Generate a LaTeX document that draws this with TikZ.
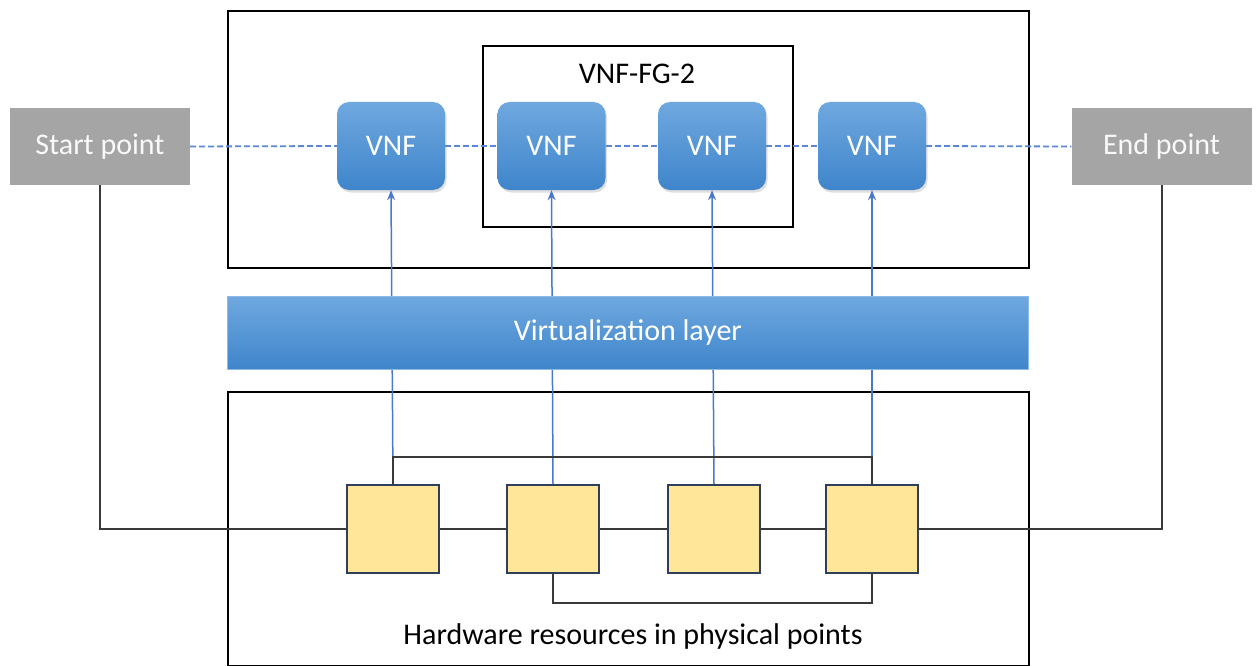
\documentclass[tikz,border=0pt]{standalone}
\usepackage{fontspec}
\setmainfont{Carlito}
\usetikzlibrary{arrows.meta,shadows,positioning}
\definecolor{vnftop}{HTML}{6FA8DF}
\definecolor{vnfbot}{HTML}{3F85CB}
\definecolor{linkblue}{HTML}{4A78CF}
\definecolor{dashblue}{HTML}{5B86D6}
\definecolor{endgray}{HTML}{A5A5A5}
\definecolor{hwfill}{HTML}{FFE699}
\definecolor{hwedge}{HTML}{2E3E5C}
\definecolor{wire}{HTML}{3A3A3A}
\tikzset{
  frame/.style={draw=black, line width=1.6pt},
  bigfont/.style={font=\fontsize{30}{36}\selectfont},
  vnfbox/.style={rounded corners=12pt, minimum width=108pt, minimum height=88pt,
    top color=vnftop, bottom color=vnfbot, draw=none, text=white, bigfont,
    drop shadow={opacity=0.25, shadow xshift=1.5pt, shadow yshift=-2.5pt}},
  endbox/.style={fill=endgray, draw=none, minimum width=180pt, minimum height=77pt,
    text=white!95!gray, bigfont},
  hwbox/.style={fill=hwfill, draw=hwedge, line width=1.4pt, minimum width=92pt, minimum height=88pt},
  chain/.style={dashblue, dash pattern=on 6pt off 3pt, line width=1.8pt},
  uplink/.style={linkblue, line width=1.5pt, -{Stealth[length=10pt,width=8pt]}},
  wirestyle/.style={wire, line width=2pt},
  lbl/.style={bigfont, text=black}
}
\begin{document}
\begin{tikzpicture}[x=1pt, y=-1pt]
\useasboundingbox (0,0) rectangle (1256,666);

% frames
\node[frame, minimum width=801pt, minimum height=257pt, anchor=north west] (top) at (227,10) {};
\node[frame, minimum width=801pt, minimum height=274pt, anchor=north west] (hw) at (227,391) {};
\node[frame, minimum width=310pt, minimum height=181pt, anchor=north west] (fg) at (482,45) {};
\node[lbl] (fglabel) at (637,74) {VNF-FG-2};
\node[lbl] (hwlabel) at (633,636) {Hardware resources in physical points};

% start and end points
\node[endbox] (st) at (100,146.5) {Start point};
\node[endbox] (en) at (1161.5,146.5) {End point};

% hardware nodes
\node[hwbox] (s1) at (393,529) {};
\node[hwbox] (s2) at (553,529) {};
\node[hwbox] (s3) at (714,529) {};
\node[hwbox] (s4) at (872,529) {};

% virtual network functions
\node[vnfbox] (v1) at (391,146) {VNF};
\node[vnfbox] (v2) at (551.5,146) {VNF};
\node[vnfbox] (v3) at (712,146) {VNF};
\node[vnfbox] (v4) at (872,146) {VNF};

% mapping of functions onto hardware
\draw[uplink] (s1.north) -- (v1.south);
\draw[uplink] (s2.north) -- (v2.south);
\draw[uplink] (s3.north) -- (v3.south);
\draw[uplink] (s4.north) -- (v4.south);

% virtualization layer over the mapping lines
\node[draw=vnftop!80!white, line width=0.8pt, top color=vnftop, bottom color=vnfbot,
      minimum width=801pt, minimum height=73pt, anchor=north west] (vl) at (227,296) {};
\node[text=white, bigfont] (vltext) at (vl.center) {Virtualization layer};

% forwarding graph chain
\draw[chain] (st.east) -- (v1.west);
\draw[chain] (v1.east) -- (v2.west);
\draw[chain] (v2.east) -- (v3.west);
\draw[chain] (v3.east) -- (v4.west);
\draw[chain] (v4.east) -- (en.west);

% physical wiring
\draw[wirestyle] (st.south) |- (s1.west);
\draw[wirestyle] (en.south) |- (s4.east);
\draw[wirestyle] (s1.east) -- (s2.west);
\draw[wirestyle] (s2.east) -- (s3.west);
\draw[wirestyle] (s3.east) -- (s4.west);
\draw[wirestyle] (s1.north) -- ++(0,-27) -| (s4.north);
\draw[wirestyle] (s2.south) -- ++(0,29) -| (s4.south);

% redraw hardware nodes above the wiring
\node[hwbox] at (s1) {};
\node[hwbox] at (s2) {};
\node[hwbox] at (s3) {};
\node[hwbox] at (s4) {};
\end{tikzpicture}
\end{document}
